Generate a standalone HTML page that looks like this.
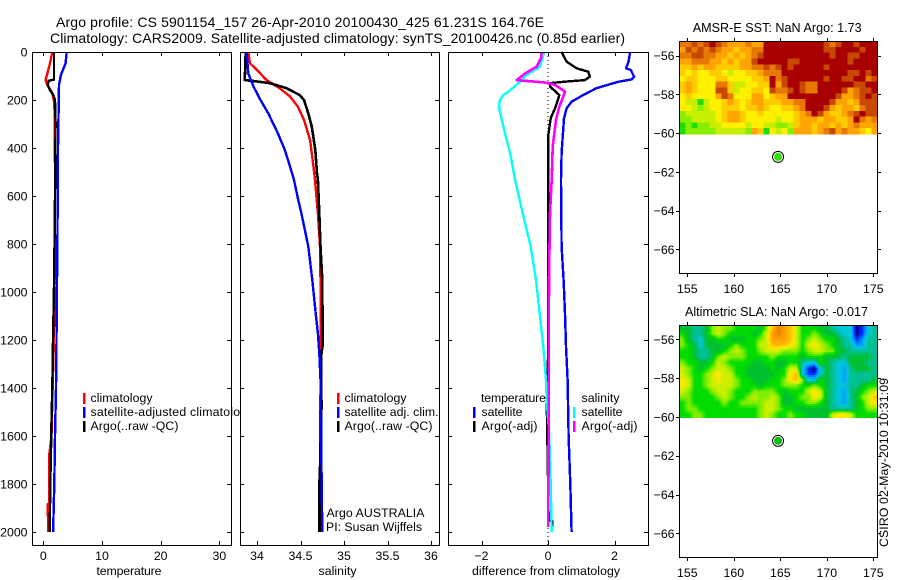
<!DOCTYPE html>
<html lang="en">
<head>
<meta charset="utf-8">
<title>Argo profile chart</title>
<style>
html,body{margin:0;padding:0;background:#fff;}
svg{display:block;}
text{font-family:"Liberation Sans",sans-serif;fill:#000;}
.t{font-size:12.3px;}
.h{font-size:14px;}
.m{font-size:12.6px;}
</style>
</head>
<body>
<svg id="chart" xmlns="http://www.w3.org/2000/svg" width="900" height="580" viewBox="0 0 900 580">
  <defs>
    <clipPath id="clip-temp"><rect x="32" y="52" width="208" height="494"/></clipPath>
  </defs>
  <rect x="0" y="0" width="900" height="580" fill="#fff"/>
  <text class="h" x="56" y="27" textLength="488" lengthAdjust="spacing">Argo profile: CS 5901154_157 26-Apr-2010 20100430_425 61.231S 164.76E</text>
  <text class="h" x="50" y="43" textLength="575" lengthAdjust="spacing">Climatology: CARS2009. Satellite-adjusted climatology: synTS_20100426.nc (0.85d earlier)</text>

  <g id="panel-temp"></g>
  <g id="panel-sal"></g>
  <g id="panel-diff"></g>
  <g id="map-sst"></g>
  <g id="map-sla"></g>

  <g clip-path="url(#clip-temp)">
    <rect x="83" y="393" width="2.5" height="11" fill="#f00"/>
    <text class="t" x="90.5" y="402" textLength="62" lengthAdjust="spacing">climatology</text>
    <rect x="83" y="407" width="2.5" height="11" fill="#00f"/>
    <text class="t" x="90.5" y="416" textLength="163" lengthAdjust="spacing">satellite-adjusted climatology</text>
    <rect x="83" y="421" width="2.5" height="11" fill="#000"/>
    <text class="t" x="90.5" y="430" textLength="88" lengthAdjust="spacing">Argo(..raw -QC)</text>
  </g>
  <g>
    <rect x="337" y="393" width="2.5" height="11" fill="#f00"/>
    <text class="t" x="344.5" y="402" textLength="62" lengthAdjust="spacing">climatology</text>
    <rect x="337" y="407" width="2.5" height="11" fill="#00f"/>
    <text class="t" x="344.5" y="416" textLength="94" lengthAdjust="spacing">satellite adj. clim.</text>
    <rect x="337" y="421" width="2.5" height="11" fill="#000"/>
    <text class="t" x="344.5" y="430" textLength="88" lengthAdjust="spacing">Argo(..raw -QC)</text>
    <text class="t" x="326.5" y="517" textLength="98" lengthAdjust="spacing">Argo AUSTRALIA</text>
    <text class="t" x="326" y="531" textLength="96" lengthAdjust="spacing">PI: Susan Wijffels</text>
  </g>
  <g>
    <text class="t" x="481" y="402" textLength="65" lengthAdjust="spacing">temperature</text>
    <rect x="473" y="407" width="2.5" height="11" fill="#00f"/>
    <text class="t" x="481.5" y="416" textLength="41" lengthAdjust="spacing">satellite</text>
    <rect x="473" y="421" width="2.5" height="11" fill="#000"/>
    <text class="t" x="481.5" y="430" textLength="56" lengthAdjust="spacing">Argo(-adj)</text>
    <text class="t" x="581.5" y="402" textLength="38" lengthAdjust="spacing">salinity</text>
    <rect x="573" y="407" width="2.5" height="11" fill="#0ff"/>
    <text class="t" x="581.5" y="416" textLength="41" lengthAdjust="spacing">satellite</text>
    <rect x="573" y="421" width="2.5" height="11" fill="#f0f"/>
    <text class="t" x="581.5" y="430" textLength="56" lengthAdjust="spacing">Argo(-adj)</text>
  </g>

  <text class="t" x="129" y="575" text-anchor="middle" textLength="65" lengthAdjust="spacing">temperature</text>
  <text class="t" x="337.5" y="575" text-anchor="middle" textLength="38" lengthAdjust="spacing">salinity</text>
  <text class="t" x="546" y="575" text-anchor="middle" textLength="148" lengthAdjust="spacing">difference from climatology</text>

  <text class="m" x="692.7" y="32" textLength="169" lengthAdjust="spacing">AMSR-E SST: NaN Argo: 1.73</text>
  <text class="m" x="685" y="316" textLength="183" lengthAdjust="spacing">Altimetric SLA: NaN Argo: -0.017</text>
  <text class="t" transform="translate(888 547) rotate(-90)" x="0" y="0" textLength="169" lengthAdjust="spacing">CSIRO 02-May-2010 10:31:09</text>
</svg>

<script>
// ---------- profile tick data ----------
const depthTicks = [0, 200, 400, 600, 800, 1000, 1200, 1400, 1600, 1800, 2000];
const tempTicks = [0, 10, 20, 30];
const salTicks = [34, 34.5, 35, 35.5, 36];
const salTickLabels = ['34', '34.5', '35', '35.5', '36'];
const diffTicks = [-2, 0, 2];
const diffTickLabels = ['\u22122', '0', '2'];
const lonTicks = [155, 160, 165, 170, 175];
const latTicks = [-56, -58, -60, -62, -64, -66];

// ---------- temperature ----------
const tempClimDepth = [0, 47, 75, 117, 137, 172, 214, 300, 600, 800, 1000, 1200, 1400, 1600, 1680, 1880, 1885, 2000];
const tempClimValue = [1.54, 1.14, 0.85, 0.4, 0.7, 1.55, 1.87, 1.98, 2.0, 1.98, 1.9, 1.8, 1.58, 1.4, 1.0, 1.0, 0.75, 0.85];
const tempSatDepth = [0, 47, 96, 137, 400, 600, 800, 1000, 1200, 1400, 1600, 1800, 1950, 2000];
const tempSatValue = [3.98, 3.8, 3.0, 2.67, 2.5, 2.45, 2.4, 2.32, 2.25, 2.16, 2.0, 1.87, 1.72, 1.7];
const tempArgoDepth = [0, 115, 120, 137, 160, 179, 200, 296, 600, 800, 1000, 1200, 1400, 1530, 1600, 1800, 2000];
const tempArgoValue = [1.82, 1.82, 0.9, 0.75, 1.15, 1.7, 2.0, 2.1, 2.0, 1.9, 1.8, 1.65, 1.53, 1.4, 1.36, 1.2, 1.09];

// ---------- salinity ----------
const salClimDepth = [0, 47, 75, 117, 151, 186, 228, 283, 367, 478, 533, 672, 811, 950, 1255, 1400, 2000];
const salClimValue = [33.9, 33.92, 34.0, 34.11, 34.26, 34.38, 34.47, 34.54, 34.61, 34.65, 34.667, 34.7, 34.724, 34.73, 34.73, 34.73, 34.72];
const salSatDepth = [0, 89, 144, 200, 256, 339, 408, 478, 533, 610, 672, 811, 950, 1089, 1172, 1255, 1366, 1450, 1700, 2000];
const salSatValue = [33.88, 33.9, 33.96, 34.04, 34.13, 34.24, 34.32, 34.38, 34.425, 34.47, 34.51, 34.59, 34.636, 34.675, 34.7, 34.716, 34.73, 34.735, 34.74, 34.75];
const salArgoDepth = [0, 117, 121, 130, 151, 179, 200, 256, 311, 408, 506, 533, 672, 811, 950, 1220, 1260, 1450];
const salArgoValue = [33.87, 33.86, 33.96, 34.15, 34.34, 34.49, 34.54, 34.59, 34.63, 34.67, 34.69, 34.7, 34.716, 34.73, 34.75, 34.755, 34.74, 34.74];
const salArgoDeepDepth = [1450, 1700, 1800, 2000];
const salArgoDeepValue = [34.74, 34.73, 34.72, 34.72];

// ---------- differences ----------
const diffTempSatDepth = [0, 40, 68, 75, 103, 114, 124, 151, 179, 207, 235, 276, 421, 533, 811, 950, 1089, 1228, 1366, 1600, 1800, 2000];
const diffTempSatValue = [2.47, 2.42, 2.35, 2.49, 2.59, 2.52, 2.11, 1.46, 1.06, 0.71, 0.56, 0.48, 0.41, 0.39, 0.41, 0.47, 0.51, 0.54, 0.59, 0.62, 0.67, 0.71];
const diffTempArgoDepth = [0, 40, 68, 82, 103, 117, 124, 130, 144, 179, 195, 235, 276, 346, 533, 1000, 1250, 1400, 1450, 1950, 1955, 1980];
const diffTempArgoValue = [0.41, 0.56, 0.86, 1.21, 1.26, 1.11, 0.46, 0.06, 0.06, 0.34, 0.31, 0.21, 0.08, 0.01, 0.01, 0.01, 0.01, -0.04, -0.04, 0.02, 0.13, 0.13];
const diffSalSatDepth = [0, 61, 96, 130, 165, 179, 200, 215, 235, 283, 353, 421, 533, 672, 811, 950, 1089, 1228, 1366, 1450, 1600, 1800, 2000];
const diffSalSatValue = [-0.11, -0.24, -0.64, -0.89, -1.19, -1.34, -1.44, -1.47, -1.47, -1.39, -1.27, -1.14, -0.99, -0.76, -0.52, -0.36, -0.25, -0.14, -0.06, -0.04, 0.04, 0.08, 0.11];
const diffSalArgoDepth = [0, 25, 61, 89, 117, 124, 128, 137, 165, 186, 228, 283, 394, 533, 672, 950, 1450, 1980];
const diffSalArgoValue = [-0.19, -0.21, -0.34, -0.69, -0.94, -0.34, -0.04, 0.21, 0.51, 0.46, 0.34, 0.24, 0.14, 0.11, 0.06, 0.03, 0.02, 0.01];

// ---------- float position ----------
const floatLon = 164.76;
const floatLat = -61.231;

// ---------- map grids: colour-scale levels, north to south ----------
const sstLevels = [
[6,6,7,6,7,8,7,6,5,5,5,6,5,5,8,8,8,8,8,8,8,8,8,8,7,6,7,8,8,7,8,8,8],
[5,7,6,7,6,7,6,5,5,4,5,5,6,6,8,8,8,8,8,8,8,8,8,8,7,7,8,8,8,8,7,8,8],
[6,6,7,7,6,6,5,5,4,5,4,5,6,7,8,8,8,8,8,8,8,8,8,8,8,7,8,8,7,7,8,8,8],
[5,5,6,6,6,5,5,4,5,4,5,5,7,8,8,8,8,8,7,7,8,8,8,8,8,8,8,8,7,8,8,8,8],
[4,4,5,4,5,5,4,4,4,4,5,5,6,6,7,6,7,8,7,8,8,8,8,8,7,8,8,8,8,8,8,8,8],
[4,3,4,3,3,4,4,3,2,3,3,4,4,5,6,6,6,8,8,8,8,8,8,8,8,8,8,8,7,7,8,7,8],
[3,4,4,3,3,3,4,4,3,3,3,3,4,4,5,8,6,7,8,8,8,8,8,8,7,8,8,7,7,8,8,6,7],
[4,5,4,3,3,3,6,6,4,2,2,3,3,4,4,8,5,7,8,8,7,6,6,8,8,8,8,8,8,7,7,8,8],
[4,5,4,3,3,3,7,7,4,2,3,3,4,4,3,7,6,6,7,8,7,6,6,8,8,8,8,7,5,6,7,7,8],
[3,4,3,3,3,3,5,7,6,3,3,3,5,5,3,4,5,5,8,8,8,8,8,8,8,8,7,5,5,6,7,8,7],
[3,2,2,0,2,3,3,4,5,4,3,4,5,5,4,4,4,5,5,6,6,8,8,8,8,7,5,5,4,5,7,7,7],
[3,3,2,1,2,3,3,4,4,4,3,4,4,5,4,3,3,4,4,5,6,8,8,8,7,5,4,5,5,4,6,7,7],
[1,2,2,2,2,2,3,4,5,5,4,3,3,4,3,3,3,3,3,4,5,6,8,7,5,4,4,5,6,7,8,7,7],
[1,1,2,2,2,2,3,4,5,5,4,3,3,3,3,3,2,3,3,4,5,5,5,4,5,5,4,4,5,8,6,5,6],
[0,1,0,1,1,2,2,3,3,3,3,2,3,3,2,2,1,1,2,4,5,5,4,5,5,4,5,4,5,6,5,5,5],
[0,1,1,1,1,1,2,2,2,2,2,1,5,4,0,3,2,3,1,5,5,5,4,5,6,7,5,6,5,5,4,3,5]
];
const slaLevels = [
[5,5,4,4,5,7,8,7,7,6,6,6,6,5,7,10,12,11,10,8,6,6,6,5,5,4,3,3,3,0,1,3,4],
[6,5,4,4,5,7,8,7,6,6,6,6,5,6,8,11,12,11,10,8,6,6,7,6,5,5,4,3,3,0,1,3,4],
[7,5,4,3,5,5,6,6,5,5,5,6,6,7,8,11,11,11,10,8,6,7,8,7,6,6,5,4,3,1,2,4,4],
[7,6,5,3,5,5,5,5,6,7,6,6,6,8,8,10,10,10,9,8,6,8,9,8,7,6,5,4,4,2,2,4,4],
[6,6,5,4,4,5,5,6,7,8,7,6,6,7,8,8,8,7,7,7,6,7,8,8,7,7,5,5,4,4,4,4,4],
[6,6,5,4,4,5,7,8,7,7,7,6,6,6,6,7,6,6,6,6,5,6,6,6,5,5,5,4,5,5,5,5,4],
[7,6,6,5,5,6,8,7,6,6,6,6,5,5,6,6,5,5,6,6,4,3,3,6,5,4,3,3,5,5,5,4,4],
[8,7,6,5,6,7,8,8,7,6,6,5,5,5,5,6,5,6,8,8,3,1,0,3,5,4,3,2,4,5,5,5,4],
[8,7,6,6,7,8,9,8,8,6,6,5,5,5,5,5,6,6,9,10,3,1,1,3,5,4,3,2,4,4,4,4,4],
[9,8,6,6,7,8,9,8,8,7,6,6,5,5,5,6,6,7,9,10,7,3,3,6,5,4,3,2,4,4,4,4,5],
[9,8,6,6,7,8,8,8,8,7,6,6,6,5,6,6,6,7,7,7,6,6,7,6,5,4,3,3,4,4,5,6,6],
[8,7,6,6,6,7,8,8,7,6,6,6,7,7,7,7,6,5,6,6,6,8,9,8,5,4,3,2,4,5,6,7,8],
[7,7,6,6,6,6,7,8,7,6,6,7,8,7,7,8,7,5,5,6,7,7,9,8,5,4,3,2,4,5,7,8,10],
[6,7,6,6,6,6,6,7,6,6,7,7,7,7,8,8,7,5,5,6,6,7,7,6,5,4,3,2,4,5,6,8,9],
[6,7,7,6,6,6,6,6,6,6,6,6,6,7,8,8,7,6,6,5,5,5,5,5,5,4,4,4,4,5,6,7,7],
[6,6,7,7,6,6,6,6,6,6,6,6,6,7,8,7,6,6,7,6,6,5,5,5,5,8,9,9,8,6,6,6,6]
];

// ---------- drawing ----------
const NS = 'http://www.w3.org/2000/svg';
const sstColors = ['#22dc00','#88ee00','#c8ee00','#fff000','#ffcc00','#ffa400','#e87800','#c84800','#a80000'];
const slaColors = ['#000090','#0030ff','#00a0ff','#00c8d8','#00c094','#00c030','#00dc00','#80ee00','#ccf000','#ffe800','#ffc000','#ffa000','#ee8000'];

function yDepth(d) { return 52 + d * 0.24; }
function xTemp(v) { return 43.3 + v * 5.87; }
function xSal(v) { return 344 + (v - 35) * 87; }
function xDiff(v) { return 548 + v * 33.25; }
function xLon(v) { return 687.3 + (v - 155) * 9.3; }
function yLatTop(v) { return 55.6 + (-56 - v) * 19.37; }
function yLatBot(v) { return 339.4 + (-56 - v) * 19.39; }

function make(parent, tag, attrs, name) {
  const el = document.createElementNS(NS, tag);
  for (const k in attrs) el.setAttribute(k, attrs[k]);
  
  
  parent.appendChild(el);
  return el;
}
function tickLine(parent, x1, y1, x2, y2, name) {
  make(parent, 'line', {x1: x1, y1: y1, x2: x2, y2: y2, stroke: '#000', 'stroke-width': 1, 'shape-rendering': 'crispEdges'}, name);
}
function label(parent, x, y, text, anchor, cls, name) {
  const el = make(parent, 'text', {x: x, y: y, 'text-anchor': anchor, 'class': cls}, name);
  el.textContent = text;
}
function frame(parent, l, t, r, b) {
  make(parent, 'rect', {x: l + 0.5, y: t + 0.5, width: r - l, height: b - t, fill: 'none', stroke: '#000', 'stroke-width': 1.2, 'shape-rendering': 'crispEdges'}, 'plot-frame');
}
function profile(parent, depths, values, xFn, color, width, name) {
  const pts = depths.map(function (d, i) { return xFn(values[i]).toFixed(1) + ',' + yDepth(d).toFixed(1); }).join(' ');
  make(parent, 'polyline', {points: pts, fill: 'none', stroke: color, 'stroke-width': width, 'stroke-linejoin': 'round', 'shape-rendering': 'crispEdges'}, name);
}
function panelAxes(parent, l, r, xFn, ticks, labels, showDepth) {
  const t = 52, b = 545;
  make(parent, 'rect', {x: l, y: t, width: r - l, height: b - t, fill: '#fff'}, 'plot-background');
  ticks.forEach(function (v, i) {
    const x = Math.round(xFn(v)) + 0.5;
    tickLine(parent, x, t, x, t + 4, 'x-tick-top');
    tickLine(parent, x, b, x, b - 4, 'x-tick-bottom');
    label(parent, xFn(v), 560, labels[i], 'middle', 't', 'x-tick-label');
  });
  depthTicks.forEach(function (d) {
    const y = Math.round(yDepth(d)) + 0.5;
    tickLine(parent, l, y, l + 4, y, 'y-tick-left');
    tickLine(parent, r, y, r - 4, y, 'y-tick-right');
    if (showDepth) label(parent, 27.5, yDepth(d) + 4.5, String(d), 'end', 't', 'y-tick-label');
  });
}
function hexRgb(h) { return [parseInt(h.substr(1, 2), 16), parseInt(h.substr(3, 2), 16), parseInt(h.substr(5, 2), 16)]; }
function scaleColor(colors, v) {
  const c = Math.max(0, Math.min(colors.length - 1, v));
  const lo = Math.floor(c), hi = Math.min(colors.length - 1, lo + 1), f = c - lo;
  const a = hexRgb(colors[lo]), b = hexRgb(colors[hi]);
  return 'rgb(' + a.map(function (p, i) { return Math.round(p + (b[i] - p) * f); }).join(',') + ')';
}
function sampleGrid(levels, r, c) {
  const nR = levels.length, nC = levels[0].length;
  const rr = Math.max(0, Math.min(nR - 1, r)), cc = Math.max(0, Math.min(nC - 1, c));
  const r0 = Math.floor(rr), c0 = Math.floor(cc);
  const r1 = Math.min(nR - 1, r0 + 1), c1 = Math.min(nC - 1, c0 + 1);
  const fr = rr - r0, fc = cc - c0;
  return (levels[r0][c0] * (1 - fc) + levels[r0][c1] * fc) * (1 - fr) + (levels[r1][c0] * (1 - fc) + levels[r1][c1] * fc) * fr;
}
function mapPanel(parent, levels, colors, top, bottom, gridBottom, yFn, dotColor, sub) {
  const l = 679, r = 877;
  const lonMin = 154.14, lonMax = 175.43;
  const latMax = -56 + (yFn(-56) - top) / ((yFn(-66) - yFn(-56)) / 10);
  const latMin = -56 - (gridBottom - yFn(-56)) / ((yFn(-66) - yFn(-56)) / 10);
  const nCols = levels[0].length * sub, nRows = levels.length * sub;
  for (let j = 0; j < nRows; j++) {
    for (let i = 0; i < nCols; i++) {
      const v = sampleGrid(levels, (j + 0.5) / sub - 0.5, (i + 0.5) / sub - 0.5);
      const x0 = xLon(lonMin + (lonMax - lonMin) * i / nCols);
      const x1 = xLon(lonMin + (lonMax - lonMin) * (i + 1) / nCols);
      const y0 = yFn(latMax - (latMax - latMin) * j / nRows);
      const y1 = yFn(latMax - (latMax - latMin) * (j + 1) / nRows);
      make(parent, 'rect', {x: x0.toFixed(2), y: y0.toFixed(2), width: (x1 - x0 + 0.4).toFixed(2), height: (y1 - y0 + 0.4).toFixed(2), fill: scaleColor(colors, v), 'shape-rendering': 'crispEdges'}, 'map-cell');
    }
  }
  frame(parent, l, top, r, bottom);
  lonTicks.forEach(function (v) {
    const x = Math.round(xLon(v)) + 0.5;
    tickLine(parent, x, top, x, top - 3, 'lon-tick-top');
    tickLine(parent, x, bottom + 1, x, bottom + 4, 'lon-tick-bottom');
    label(parent, xLon(v), bottom + 20, String(v), 'middle', 't', 'lon-tick-label');
  });
  latTicks.forEach(function (v) {
    const y = Math.round(yFn(v)) + 0.5;
    tickLine(parent, l, y, l - 3, y, 'lat-tick-left');
    tickLine(parent, r + 1, y, r + 4, y, 'lat-tick-right');
    label(parent, 674.5, yFn(v) + 4.5, '\u2212' + Math.abs(v), 'end', 't', 'lat-tick-label');
  });
  make(parent, 'circle', {cx: xLon(floatLon), cy: yFn(floatLat), r: 5.5, fill: '#fff', stroke: '#000', 'stroke-width': 1}, 'float-marker-ring');
  make(parent, 'circle', {cx: xLon(floatLon), cy: yFn(floatLat), r: 4, fill: dotColor}, 'float-marker');
}

const gTemp = document.getElementById('panel-temp');
const gSal = document.getElementById('panel-sal');
const gDiff = document.getElementById('panel-diff');

panelAxes(gTemp, 32, 231, xTemp, tempTicks, tempTicks.map(String), true);
profile(gTemp, tempClimDepth, tempClimValue, xTemp, '#f00', 2.4, 'temperature-climatology-line');
profile(gTemp, tempSatDepth, tempSatValue, xTemp, '#00f', 2.4, 'temperature-satellite-line');
profile(gTemp, tempArgoDepth, tempArgoValue, xTemp, '#000', 2.4, 'temperature-argo-line');
frame(gTemp, 32, 52, 231, 545);

panelAxes(gSal, 240, 439, xSal, salTicks, salTickLabels, false);
profile(gSal, salClimDepth, salClimValue, xSal, '#f00', 2.4, 'salinity-climatology-line');
profile(gSal, salArgoDepth, salArgoValue, xSal, '#000', 2.6, 'salinity-argo-line');
profile(gSal, salArgoDeepDepth, salArgoDeepValue, xSal, '#000', 3, 'salinity-argo-deep-line');
profile(gSal, salSatDepth, salSatValue, xSal, '#00f', 2.4, 'salinity-satellite-line');
frame(gSal, 240, 52, 439, 545);

panelAxes(gDiff, 448, 648, xDiff, diffTicks, diffTickLabels, false);
make(gDiff, 'line', {x1: xDiff(0), y1: 52, x2: xDiff(0), y2: 545, stroke: '#000', 'stroke-width': 1, 'stroke-dasharray': '1 3', 'shape-rendering': 'crispEdges'}, 'zero-reference-line');
profile(gDiff, diffTempSatDepth, diffTempSatValue, xDiff, '#00f', 2.4, 'difference-temperature-satellite-line');
profile(gDiff, diffTempArgoDepth, diffTempArgoValue, xDiff, '#000', 2.4, 'difference-temperature-argo-line');
profile(gDiff, diffSalSatDepth, diffSalSatValue, xDiff, '#0ff', 2.4, 'difference-salinity-satellite-line');
profile(gDiff, diffSalArgoDepth, diffSalArgoValue, xDiff, '#f0f', 2.6, 'difference-salinity-argo-line');
frame(gDiff, 448, 52, 648, 545);

mapPanel(document.getElementById('map-sst'), sstLevels, sstColors, 41, 273, 134, yLatTop, '#30e000', 1);
mapPanel(document.getElementById('map-sla'), slaLevels, slaColors, 325, 557, 417.5, yLatBot, '#00c010', 3);
</script>
</body>
</html>
